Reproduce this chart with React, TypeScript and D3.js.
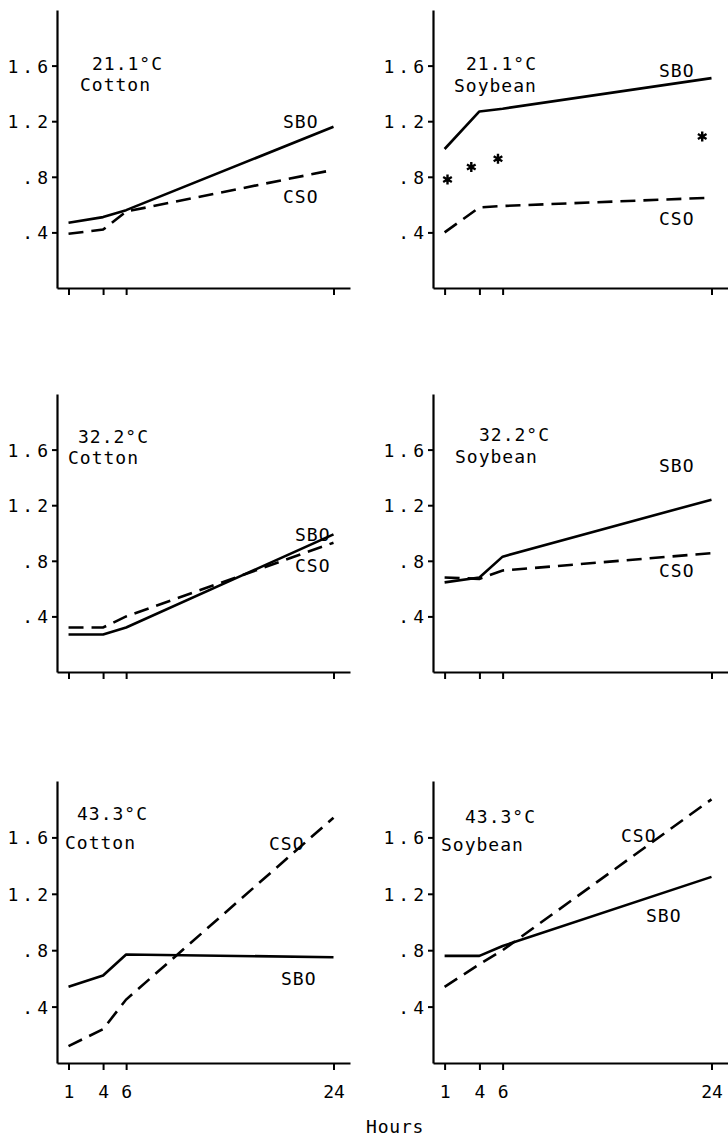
import * as d3 from 'd3'
import { useRef, useEffect } from 'react'

// sampling times (hours) and axis ticks
const hours = [1, 4, 6, 24]
const yTicks = [0.4, 0.8, 1.2, 1.6]
const yTickLabels = ['.4', '.8', '1.2', '1.6']

// one entry per panel, row by row (left, right)
const temps = ['21.1°C', '21.1°C', '32.2°C', '32.2°C', '43.3°C', '43.3°C']
const crops = ['Cotton', 'Soybean', 'Cotton', 'Soybean', 'Cotton', 'Soybean']

const sboValues = [
  [0.47, 0.51, 0.56, 1.16],
  [1.0, 1.27, 1.29, 1.51],
  [0.27, 0.27, 0.32, 0.99],
  [0.645, 0.68, 0.83, 1.24],
  [0.54, 0.62, 0.77, 0.75],
  [0.76, 0.76, 0.83, 1.32],
]
const csoValues = [
  [0.39, 0.42, 0.55, 0.85],
  [0.4, 0.58, 0.59, 0.65],
  [0.32, 0.32, 0.4, 0.93],
  [0.68, 0.67, 0.73, 0.855],
  [0.12, 0.24, 0.45, 1.74],
  [0.54, 0.7, 0.8, 1.87],
]

// asterisks in the 21.1°C soybean panel
const starHours = [1.25, 3.3, 5.6, 23.2]
const starValues = [0.78, 0.87, 0.93, 1.09]

// layout
const W = 728
const H = 1140
const colAxis = [57, 433]
const colAt24 = [333.5, 711.5]
const colEnd = [350, 728]
const rowZero = [288, 672, 1063]
const rowTop = [10, 394, 781]
const FONT = "'DejaVu Sans Mono', monospace"
const FS = 18

// text offsets relative to (axis x, top of axis)
const labelPos = [
  { title: [35, 60], crop: [23, 81], sbo: [226, 118], cso: [226, 193] },
  { title: [33, 60], crop: [21, 82], sbo: [226, 67], cso: [226, 215] },
  { title: [21, 49], crop: [11, 70], sbo: [238, 147], cso: [238, 178] },
  { title: [46, 47], crop: [22, 69], sbo: [226, 78], cso: [226, 183] },
  { title: [20, 39], crop: [8, 68], sbo: [224, 204], cso: [212, 69] },
  { title: [32, 42], crop: [8, 70], sbo: [213, 141], cso: [188, 61] },
]

export default function App() {
  const svgRef = useRef(null)
  useEffect(() => {
    const svg = d3.select(svgRef.current)
    svg.selectAll('*').remove()

    temps.forEach((temp, i) => {
      const col = i % 2
      const row = Math.floor(i / 2)
      const x = d3.scaleLinear().domain([0, 24]).range([colAxis[col], colAt24[col]])
      const xAxisScale = x.copy().domain([0, x.invert(colEnd[col])]).range([colAxis[col], colEnd[col]])
      const y = d3.scaleLinear().domain([0, 2]).range([rowZero[row], rowTop[row]])

      const g = svg.append('g')

      // y axis
      const yAxis = d3.axisLeft(y)
        .tickValues(yTicks)
        .tickSize(5)
        .tickSizeOuter(0)
        .tickFormat((d, k) => yTickLabels[k])
      const ya = g.append('g')
        .attr('transform', `translate(${colAxis[col]},0)`)
        .call(yAxis)
      ya.select('.domain').attr('stroke-width', 2.2)
      ya.selectAll('.tick line').attr('stroke-width', 2)
      ya.selectAll('.tick text')
        .attr('x', -5)
        .attr('dy', '0.36em')
        .attr('font-family', FONT)
        .attr('font-size', FS)
        .attr('letter-spacing', 4)
        .attr('fill', '#000')

      // x axis
      const xAxis = d3.axisBottom(xAxisScale)
        .tickValues(hours)
        .tickSize(7)
        .tickSizeOuter(0)
        .tickFormat(row === 2 ? d3.format('d') : () => '')
      const xa = g.append('g')
        .attr('transform', `translate(0,${rowZero[row]})`)
        .call(xAxis)
      xa.select('.domain').attr('stroke-width', 2.2)
      xa.selectAll('.tick line').attr('stroke-width', 2)
      xa.selectAll('.tick text')
        .attr('y', 35)
        .attr('dy', 0)
        .attr('font-family', FONT)
        .attr('font-size', FS)
        .attr('fill', '#000')

      const line = d3.line().x((d, k) => x(hours[k])).y(d => y(d))

      g.append('path')
        .attr('d', line(sboValues[i]))
        .attr('fill', 'none')
        .attr('stroke', '#000')
        .attr('stroke-width', 2.6)
        .attr('stroke-linejoin', 'round')

      g.append('path')
        .attr('d', line(csoValues[i]))
        .attr('fill', 'none')
        .attr('stroke', '#000')
        .attr('stroke-width', 2.6)
        .attr('stroke-dasharray', '15 8')

      if (i === 1) {
        const star = d3.symbol().type(d3.symbolAsterisk).size(70)
        g.selectAll('.star')
          .data(starValues)
          .join('path')
          .attr('class', 'star')
          .attr('d', star)
          .attr('transform', (d, k) => `translate(${x(starHours[k])},${y(d)})`)
          .attr('fill', 'none')
          .attr('stroke', '#000')
          .attr('stroke-width', 2.4)
      }

      const pos = labelPos[i]
      const ox = colAxis[col]
      const oy = rowTop[row]
      const texts = [
        [temp, pos.title],
        [crops[i], pos.crop],
        ['SBO', pos.sbo],
        ['CSO', pos.cso],
      ]
      texts.forEach(([t, p]) => {
        g.append('text')
          .text(t)
          .attr('x', ox + p[0])
          .attr('y', oy + p[1])
          .attr('font-family', FONT)
          .attr('font-size', FS)
          .attr('letter-spacing', 1)
          .attr('fill', '#000')
      })
    })

    svg.append('text')
      .text('Hours')
      .attr('x', 366)
      .attr('y', 1133)
      .attr('font-family', FONT)
      .attr('font-size', FS)
      .attr('letter-spacing', 0.8)
      .attr('fill', '#000')
  }, [])

  return (
    <svg
      ref={svgRef}
      width={W}
      height={H}
      style={{ position: 'absolute', left: 0, top: 0, background: '#fff' }}
    />
  )
}
